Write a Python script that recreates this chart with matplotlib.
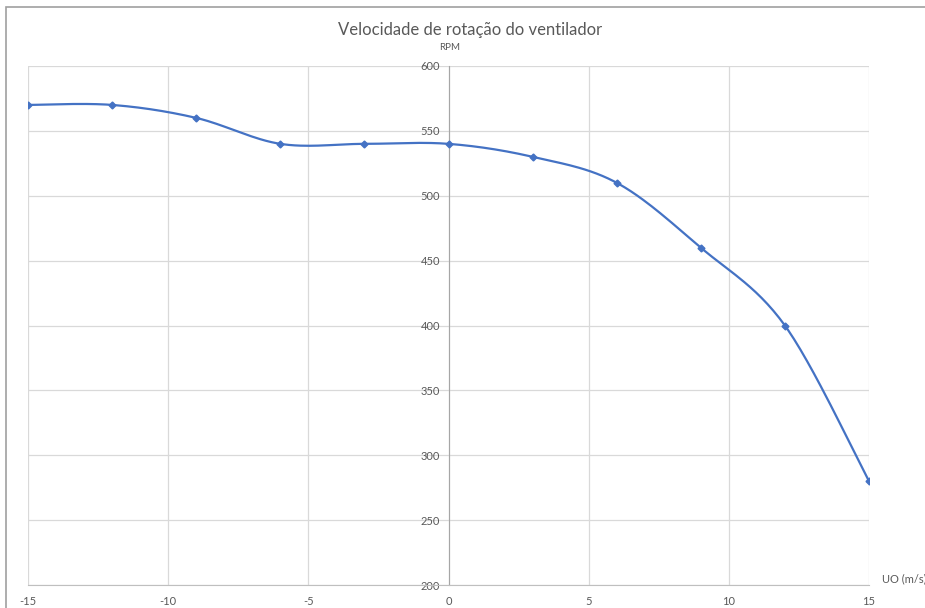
import numpy as np
import matplotlib.pyplot as plt
from matplotlib.patches import Rectangle

# data
uo = [-15, -12, -9, -6, -3, 0, 3, 6, 9, 12, 15]
rpm = [570, 570, 560, 540, 540, 540, 530, 510, 460, 400, 280]
x_ticks = [-15, -10, -5, 0, 5, 10, 15]
y_ticks = [200, 250, 300, 350, 400, 450, 500, 550, 600]

LINE_C = '#4472C4'
TEXT_C = '#595959'
GRID_C = '#d9d9d9'

plt.rcParams['font.family'] = ['Lato', 'DejaVu Sans']
plt.rcParams['axes.unicode_minus'] = False


def smooth_curve(x, y, n=30):
    # excel-like smoothing: cubic bezier with catmull-rom control points
    x = np.asarray(x, float)
    y = np.asarray(y, float)
    px = np.concatenate([[x[0]], x, [x[-1]]])
    py = np.concatenate([[y[0]], y, [y[-1]]])
    xs, ys = [], []
    t = np.linspace(0, 1, n)
    for i in range(1, len(px) - 2):
        p0 = np.array([px[i], py[i]])
        p3 = np.array([px[i + 1], py[i + 1]])
        c1 = p0 + (np.array([px[i + 1], py[i + 1]]) - np.array([px[i - 1], py[i - 1]])) / 6
        c2 = p3 - (np.array([px[i + 2], py[i + 2]]) - np.array([px[i], py[i]])) / 6
        b = ((1 - t) ** 3)[:, None] * p0 + (3 * (1 - t) ** 2 * t)[:, None] * c1 \
            + (3 * (1 - t) * t ** 2)[:, None] * c2 + (t ** 3)[:, None] * p3
        xs.extend(b[:, 0])
        ys.extend(b[:, 1])
    return xs, ys


fig = plt.figure(figsize=(9.25, 6.08), dpi=100)
ax = fig.add_axes([28 / 925, 1 - 585 / 608, (869 - 28) / 925, (585 - 66) / 608])

sx, sy = smooth_curve(uo, rpm)
ax.plot(sx, sy, color=LINE_C, lw=1.6, zorder=3)
ax.plot(uo, rpm, ls='none', marker='D', ms=3.5, color=LINE_C, zorder=4)

ax.set_xlim(-15, 15)
ax.set_ylim(200, 600)
ax.set_xticks(x_ticks)
ax.set_yticks(y_ticks)
ax.grid(True, color=GRID_C, lw=0.9)
ax.set_axisbelow(True)

for s in ['top', 'right']:
    ax.spines[s].set_visible(False)
ax.spines['left'].set_position(('data', 0))
ax.spines['left'].set_color('#a6a6a6')
ax.spines['left'].set_zorder(2.5)
ax.spines['bottom'].set_color('#bfbfbf')
ax.tick_params(length=0, labelsize=8, labelcolor=TEXT_C)
ax.tick_params(axis='x', pad=8)
ax.tick_params(axis='y', pad=6)

fig.text(470 / 925, 1 - 30 / 608, 'Velocidade de rotação do ventilador',
         ha='center', va='center', fontsize=12, color=TEXT_C)
fig.text(450 / 925, 1 - 48 / 608, 'RPM', ha='center', va='center',
         fontsize=7, color=TEXT_C)
fig.text(882 / 925, 1 - 579 / 608, 'UO (m/s)', ha='left', va='center',
         fontsize=8, color=TEXT_C)

# chart area border (only top and left visible in the crop)
fig.patches.append(Rectangle((6 / 925, -0.1), 1.2, 1.1 - 7 / 608,
                             transform=fig.transFigure, fill=False,
                             edgecolor='#a0a0a0', lw=1.2))

fig.savefig('out.png', dpi=100)
